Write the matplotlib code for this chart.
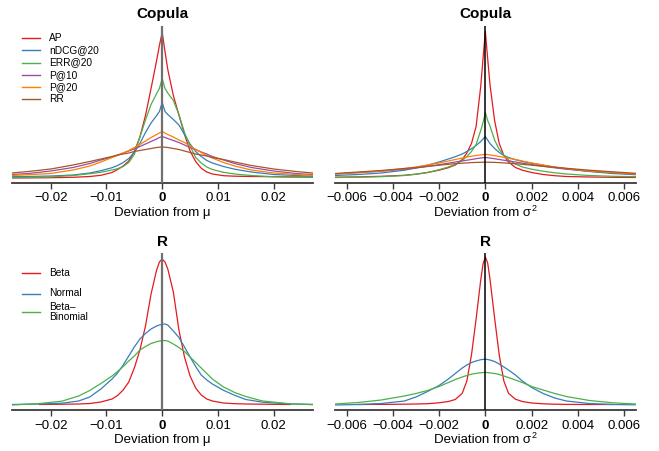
import numpy as np
import matplotlib
matplotlib.use("Agg")
import matplotlib.pyplot as plt
from matplotlib.lines import Line2D

plt.rcParams['font.family'] = ['Liberation Sans', 'DejaVu Sans']

nan = np.nan

# ---------------- data (relative density heights) ----------------
# Copula, deviation from mu
copula_mu_x = [-0.027, -0.024, -0.02, -0.016, -0.013, -0.011, -0.009, -0.008, -0.007, -0.006, -0.005,
               -0.004, -0.003, -0.002, -0.001, -0.0005, 0, 0.0005, 0.001, 0.002, 0.003, 0.004, 0.005,
               0.006, 0.007, 0.008, 0.009, 0.011, 0.013, 0.016, 0.02, 0.024, 0.027]
copula_mu_AP = [4.5, 4.6, 4.8, 5.2, 6.0, 7.2, 10.0, 13.0, 16.5, 21.5, 31.0, 45.5, 67.0, 94.0, 122.0, 137.0,
                150.0,
                131.0, 113.0, 87.0, 67.5, 48.0, 31.5, 21.0, 14.3, 10.5, 8.5, 6.8, 6.3, 6.0, 5.8, 5.6, 5.5]
copula_mu_nDCG = [5.8, 6.0, 6.5, 7.5, 9.5, 11.8, 14.8, 17.0, 20.0, 24.0, 30.0, 39.0, 50.0, 59.5, 67.0, 71.0,
                  80.0,
                  71.0, 68.0, 63.0, 57.5, 48.0, 38.5, 31.0, 26.0, 22.0, 19.5, 16.0, 13.3, 10.5, 8.0, 7.0, 6.3]
copula_mu_ERR = [5.0, 5.2, 5.6, 7.0, 8.8, 10.2, 12.5, 13.8, 16.0, 20.0, 28.0, 45.5, 62.5, 78.0, 89.0, 94.0,
                 104.0,
                 94.0, 89.5, 82.0, 68.0, 50.0, 36.5, 25.0, 19.5, 15.5, 13.0, 10.2, 8.5, 7.0, 5.7, 5.3, 5.1]
copula_mu_P10 = [8.0, 9.0, 11.5, 15.0, 19.0, 22.5, 25.5, 27.5, 29.5, 31.5, 33.5, 36.0, 38.5, 41.0, 43.5, 45.0,
                 46.0,
                 45.0, 44.0, 42.0, 40.0, 37.5, 35.0, 33.0, 30.5, 28.5, 26.0, 22.5, 19.0, 15.0, 11.5, 9.0, 8.0]
copula_mu_P20 = [7.0, 7.8, 9.0, 12.5, 16.5, 20.5, 25.0, 27.0, 29.5, 32.0, 35.0, 38.0, 41.5, 45.0, 48.0, 49.5,
                 51.0,
                 49.5, 48.0, 45.5, 42.5, 40.0, 36.5, 33.0, 30.0, 27.0, 24.5, 20.0, 16.5, 12.5, 9.5, 8.0, 7.2]
copula_mu_RR = [9.5, 11.0, 13.5, 17.5, 21.0, 23.5, 26.0, 27.5, 28.5, 29.5, 31.0, 32.0, 33.0, 34.0, 35.0, 35.3,
                35.5,
                35.3, 35.0, 34.0, 33.0, 31.5, 30.0, 28.5, 27.5, 26.5, 25.0, 23.0, 20.5, 17.0, 13.5, 11.0, 9.5]

# Copula, deviation from sigma^2
copula_var_x = [-0.0065, -0.0055, -0.0045, -0.0035, -0.003, -0.0025, -0.002, -0.0016, -0.0013, -0.001,
                -0.0008, -0.0006, -0.0004, -0.0002, -0.0001, 0, 0.0001, 0.0002, 0.0004, 0.0006, 0.0008,
                0.001, 0.0013, 0.0016, 0.002, 0.0025, 0.003, 0.0035, 0.0045, 0.0055, 0.0065]
copula_var_AP = [5.3, 5.6, 6.2, 7.2, 8.3, 10.0, 12.3, 14.8, 17.5, 23.0, 29.5, 39.0, 56.0, 96.0, 124.0,
                 151.0,
                 124.0, 98.0, 62.0, 39.0, 27.0, 20.5, 15.0, 12.3, 10.0, 8.0, 6.8, 6.0, 5.5, 5.2, 5.0]
copula_var_nDCG = [7.0, 8.0, 9.5, 12.3, 14.5, 17.3, 20.5, 23.5, 25.8, 28.5, 31.0, 33.8, 37.0, 41.0, 43.5,
                   46.0,
                   42.5, 39.0, 34.0, 30.0, 27.0, 25.0, 22.8, 21.0, 19.3, 17.2, 15.3, 13.7, 11.0, 9.0, 7.8]
copula_var_ERR = [5.0, 5.3, 5.8, 7.0, 8.3, 10.0, 12.8, 15.5, 18.0, 22.0, 26.0, 31.0, 38.0, 52.0, 60.0,
                  70.0,
                  62.0, 56.5, 42.5, 33.0, 27.3, 22.5, 18.5, 15.5, 13.3, 11.3, 9.7, 8.5, 7.0, 6.2, 5.8]
copula_var_P10 = [8.5, 9.8, 11.3, 13.2, 14.5, 16.0, 17.8, 19.3, 20.5, 21.5, 22.3, 23.0, 23.8, 24.5, 24.8,
                  25.0,
                  24.8, 24.4, 23.8, 23.0, 22.3, 21.5, 20.5, 19.3, 18.0, 16.2, 14.7, 13.3, 11.3, 9.8, 8.5]
copula_var_P20 = [8.5, 10.0, 11.5, 14.0, 15.5, 17.5, 19.5, 21.5, 23.0, 24.5, 25.5, 26.3, 27.0, 27.6, 27.9,
                  28.2,
                  27.9, 27.5, 26.8, 26.0, 25.2, 24.3, 23.0, 21.5, 19.5, 17.5, 15.5, 14.0, 11.5, 10.0, 8.5]
copula_var_RR = [9.0, 10.5, 12.0, 14.0, 15.0, 16.2, 17.3, 18.2, 18.8, 19.3, 19.6, 19.9, 20.1, 20.2, 20.3,
                 20.3,
                 20.3, 20.2, 20.1, 19.9, 19.6, 19.3, 18.8, 18.2, 17.3, 16.2, 15.2, 14.2, 12.3, 10.7, 9.2]

# R, deviation from mu
r_mu_x = [-0.027, -0.022, -0.018, -0.015, -0.013, -0.011, -0.009, -0.008, -0.007, -0.006, -0.005,
          -0.004, -0.003, -0.002, -0.001, -0.0005, 0, 0.0005, 0.001, 0.002, 0.003, 0.004, 0.005,
          0.006, 0.007, 0.008, 0.009, 0.011, 0.013, 0.015, 0.018, 0.023, 0.027]
r_mu_beta = [nan, 5.5, 5.8, 6.0, 6.5, 8.0, 11.0, 14.5, 20.0, 28.0, 42.0, 60.0, 84.0, 116.0, 140.0, 148.0,
             151.0,
             148.0, 141.0, 118.0, 80.0, 53.0, 34.0, 22.0, 15.0, 11.0, 9.0, 7.0, 6.3, 6.0, 5.8, 5.5, nan]
r_mu_normal = [5.5, 6.0, 6.8, 9.0, 13.0, 21.0, 31.0, 37.0, 45.0, 54.0, 63.0, 71.0, 76.5, 81.0, 84.0, 85.0,
               85.7,
               86.0, 85.0, 79.0, 72.5, 63.0, 53.0, 43.5, 35.0, 30.0, 26.0, 19.7, 14.7, 10.5, 7.8, 6.0, 5.7]
r_mu_betabin = [5.0, 6.5, 8.8, 14.0, 19.5, 26.5, 34.0, 38.5, 43.5, 49.0, 54.0, 60.0, 63.5, 66.5, 68.3, 69.0,
                69.3,
                69.5, 69.0, 66.0, 62.5, 58.5, 53.0, 47.5, 42.0, 36.5, 31.0, 23.0, 17.5, 13.5, 9.0, 6.2, 5.3]

# R, deviation from sigma^2
r_var_x = copula_var_x
r_var_beta = [nan, 5.5, 5.6, 5.8, 6.0, 6.3, 7.2, 8.5, 10.5, 16.7, 29.0, 55.0, 91.0, 130.0, 146.0,
              153.0,
              147.0, 131.0, 92.0, 55.0, 29.0, 16.7, 10.8, 8.5, 7.0, 6.2, 5.8, 5.6, 5.5, 5.5, nan]
r_var_normal = [5.0, 5.5, 6.5, 9.0, 13.0, 18.5, 24.5, 31.0, 36.5, 42.0, 45.0, 47.5, 49.0, 50.3, 50.6,
                50.7,
                50.5, 50.0, 48.5, 46.0, 43.0, 40.0, 35.0, 29.0, 22.5, 16.5, 12.0, 9.0, 6.5, 5.5, 5.2]
r_var_betabin = [6.0, 7.5, 10.0, 14.0, 16.5, 19.5, 23.5, 27.5, 30.5, 33.0, 34.5, 35.8, 36.6, 37.2, 37.4,
                 37.5,
                 37.4, 37.1, 36.5, 35.5, 34.0, 32.5, 30.0, 27.5, 23.5, 20.0, 16.5, 13.5, 9.5, 7.2, 6.0]

copula_labels = ['AP', 'nDCG@20', 'ERR@20', 'P@10', 'P@20', 'RR']
r_labels = ['Beta', 'Normal', 'Beta\u2013\nBinomial']
mu_ticks = [-0.02, -0.01, 0, 0.01, 0.02]
mu_ticklabels = ['\u22120.02', '\u22120.01', '0', '0.01', '0.02']
var_ticks = [-0.006, -0.004, -0.002, 0, 0.002, 0.004, 0.006]
var_ticklabels = ['\u22120.006', '\u22120.004', '\u22120.002', '0', '0.002', '0.004', '0.006']

# ---------------- styling ----------------
c_red, c_blue, c_green = '#E41A1C', '#377EB8', '#4DAF4A'
c_purple, c_orange, c_brown = '#984EA3', '#FF7F00', '#A65628'
copula_colors = [c_red, c_blue, c_green, c_purple, c_orange, c_brown]
r_colors = [c_red, c_blue, c_green]

W, H = 659, 451
fig = plt.figure(figsize=(W / 100, H / 100), dpi=100)


def px_axes(l, t, r, b):
    return fig.add_axes([l / W, 1 - b / H, (r - l) / W, (b - t) / H])


def style(ax, xlim, ylim, ticks, labels, vcolor, vlw):
    ax.set_xlim(*xlim)
    ax.set_ylim(*ylim)
    for s in ['top', 'left', 'right']:
        ax.spines[s].set_visible(False)
    ax.spines['bottom'].set_color('#3a3a3a')
    ax.spines['bottom'].set_linewidth(1.3)
    ax.set_yticks([])
    ax.set_xticks(ticks)
    ax.set_xticklabels(labels)
    ax.tick_params(axis='x', direction='out', length=4.5, width=1.0, color='#3a3a3a',
                   labelsize=9.5, pad=2.5)
    for t, v in zip(ax.get_xticklabels(), ticks):
        if v == 0:
            t.set_fontweight('bold')
    ax.axvline(0, color=vcolor, lw=vlw, zorder=3)
    ax.patch.set_visible(False)


ax1 = px_axes(11.7, 26, 312.7, 182.5)
ax2 = px_axes(335, 26, 635.7, 182.5)
ax3 = px_axes(11.7, 253, 312.7, 410)
ax4 = px_axes(335, 253, 635.7, 410)

cop_mu = [copula_mu_AP, copula_mu_nDCG, copula_mu_ERR, copula_mu_P10, copula_mu_P20, copula_mu_RR]
cop_var = [copula_var_AP, copula_var_nDCG, copula_var_ERR, copula_var_P10, copula_var_P20, copula_var_RR]
r_mu = [r_mu_beta, r_mu_normal, r_mu_betabin]
r_var = [r_var_beta, r_var_normal, r_var_betabin]

for ys, c in zip(cop_mu, copula_colors):
    ax1.plot(copula_mu_x, ys, color=c, lw=0.9, zorder=2)
for ys, c in zip(cop_var, copula_colors):
    ax2.plot(copula_var_x, ys, color=c, lw=0.9, zorder=2)
for ys, c in zip(r_mu, r_colors):
    ax3.plot(r_mu_x, ys, color=c, lw=0.9, zorder=2)
for ys, c in zip(r_var, r_colors):
    ax4.plot(r_var_x, ys, color=c, lw=0.9, zorder=2)

style(ax1, (-0.027, 0.027), (0, 156.5), mu_ticks, mu_ticklabels, '#707070', 1.6)
style(ax2, (-0.0065, 0.0065), (0, 156.5), var_ticks, var_ticklabels, 'black', 1.1)
style(ax3, (-0.027, 0.027), (0, 157), mu_ticks, mu_ticklabels, '#707070', 1.6)
style(ax4, (-0.0065, 0.0065), (0, 157), var_ticks, var_ticklabels, 'black', 1.1)


def ftext(x, y, s, **kw):
    return fig.text(x / W, 1 - y / H, s, **kw)


# titles
ftext(162.2, 18.3, 'Copula', ha='center', va='baseline', fontsize=11, fontweight='bold')
ftext(485.3, 18.3, 'Copula', ha='center', va='baseline', fontsize=11, fontweight='bold')
ftext(162.2, 245.5, 'R', ha='center', va='baseline', fontsize=11, fontweight='bold')
ftext(485.3, 245.5, 'R', ha='center', va='baseline', fontsize=11, fontweight='bold')

# axis labels
ftext(162.2, 216.5, 'Deviation from \u03bc', ha='center', va='baseline', fontsize=9.5)
ftext(162.2, 443, 'Deviation from \u03bc', ha='center', va='baseline', fontsize=9.5)

renderer = fig.canvas.get_renderer()
for base in (216.5, 443):
    t = ftext(485.3, base, 'Deviation from \u03c3', ha='center', va='baseline', fontsize=9.5)
    s = ftext(0, base - 5.5, '2', ha='left', va='baseline', fontsize=6.5)
    wt = t.get_window_extent(renderer).width
    ws = s.get_window_extent(renderer).width
    left = 485.3 - (wt + ws + 0.5) / 2
    t.set_ha('left')
    t.set_x(left / W)
    s.set_x((left + wt + 0.5) / W)

# legends
copula_rows = [37.7, 50.0, 62.5, 74.8, 87.1, 99.3]
for lab, c, y in zip(copula_labels, copula_colors, copula_rows):
    fig.add_artist(Line2D([21.7 / W, 40 / W], [1 - y / H] * 2, color=c, lw=1.0))
    ftext(49.3, y, lab, ha='left', va='center', fontsize=7.3)

r_rows = [273.3, 293.5, 312.3]
for lab, c, y in zip(r_labels, r_colors, r_rows):
    fig.add_artist(Line2D([21.7 / W, 40 / W], [1 - y / H] * 2, color=c, lw=1.0))
    ftext(49.3, y, lab, ha='left', va='center', fontsize=7.3, linespacing=1.05)

fig.savefig('out.png', dpi=100)
